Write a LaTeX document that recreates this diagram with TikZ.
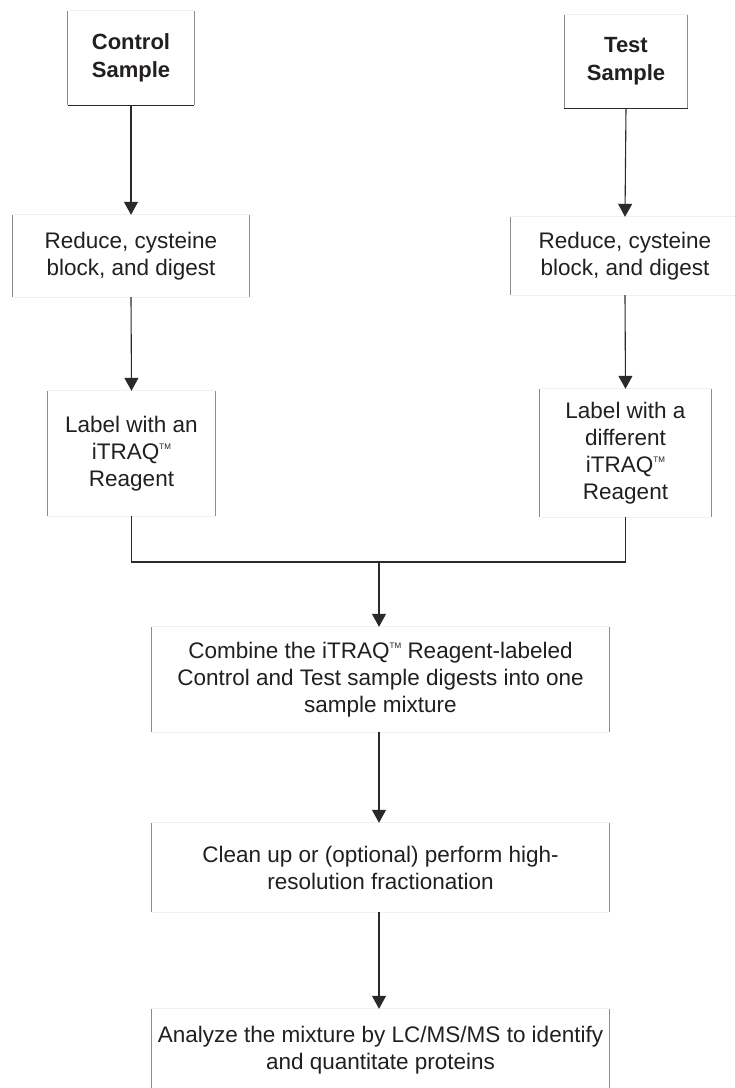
\documentclass[tikz,border=0pt]{standalone}
\usepackage{fontspec}
\setmainfont{Liberation Sans}
\usetikzlibrary{arrows.meta}
\definecolor{ink}{HTML}{231F20}
\definecolor{side}{HTML}{8C8C8C}
\definecolor{faint}{HTML}{F0F0F0}
\definecolor{conn}{HTML}{2A2A2A}
\newcommand{\tmk}{\raisebox{10pt}{\fontsize{8}{8}\selectfont TM}}
\tikzset{
  stepbox/.style={draw=none, inner sep=0pt, align=center, text=ink,
    font=\fontsize{22.5}{27}\selectfont},
  sidebar/.style={draw=side, line width=1pt},
  faintbar/.style={draw=faint, line width=0.8pt},
  conn/.style={draw=conn, line width=1.1pt},
  arr/.style={conn, -{Triangle[length=13pt,width=14pt]}},
}
\begin{document}
\begin{tikzpicture}[x=1pt,y=-1pt]
\useasboundingbox (0,0) rectangle (735,1088);
\fill[white] (0,0) rectangle (735,1088);

\node[stepbox, minimum width=126pt, minimum height=94pt, font=\fontsize{22}{28}\selectfont\bfseries] (ctrl) at (131,58) {Control\\Sample};
\node[stepbox, minimum width=123pt, minimum height=93pt, font=\fontsize{22}{28}\selectfont\bfseries] (test) at (626,61.5) {Test\\Sample};
\node[stepbox, minimum width=236pt, minimum height=82pt] (redL) at (131,256) {Reduce, cysteine\\block, and digest};
\node[stepbox, minimum width=228pt, minimum height=78pt] (redR) at (625,256) {Reduce, cysteine\\block, and digest};
\node[stepbox, minimum width=167pt, minimum height=125pt] (labL) at (131.5,453.5) {Label with an\\iTRAQ\tmk\\Reagent};
\node[stepbox, minimum width=171pt, minimum height=128pt] (labR) at (625.5,453) {Label with a\\different\\iTRAQ\tmk\\Reagent};
\node[stepbox, minimum width=457pt, minimum height=105pt] (comb) at (380.5,679.5) {Combine the iTRAQ\tmk{} Reagent-labeled\\Control and Test sample digests into one\\sample mixture};
\node[stepbox, minimum width=457pt, minimum height=89pt] (clean) at (380.5,867.5) {Clean up or (optional) perform high-\\resolution fractionation};
\node[stepbox, minimum width=457pt, minimum height=82pt] (anal) at (380.5,1050) {Analyze the mixture by LC/MS/MS to identify\\and quantitate proteins};

% box outlines: faint top/bottom, grey sides
\foreach \n in {ctrl,test,redL,redR,labL,labR,comb,clean,anal}{
  \draw[faintbar] (\n.north west) -- (\n.north east);
  \draw[faintbar] (\n.south west) -- (\n.south east);
  \draw[sidebar] (\n.north west) -- (\n.south west);
  \draw[sidebar] (\n.north east) -- (\n.south east);
}
\draw[conn, line width=1.3pt] (ctrl.south west) -- (ctrl.south east);
\draw[conn, line width=1.3pt] (test.south west) -- (test.south east);

% connectors
\draw[arr] (ctrl.south) -- (redL.north);
\draw[arr] (redL.south) -- (labL.north);
\draw[arr] (test.south) -- (redR.north);
\draw[arr] (redR.south) -- (labR.north);
\coordinate (m) at (379,562);
\draw[conn] (labL.south) |- (m) -| (labR.south);
\draw[arr] (m) -- (m |- comb.north);
\draw[arr] (comb.south -| m) -- (m |- clean.north);
\draw[arr] (clean.south -| m) -- (m |- anal.north);
\end{tikzpicture}
\end{document}
